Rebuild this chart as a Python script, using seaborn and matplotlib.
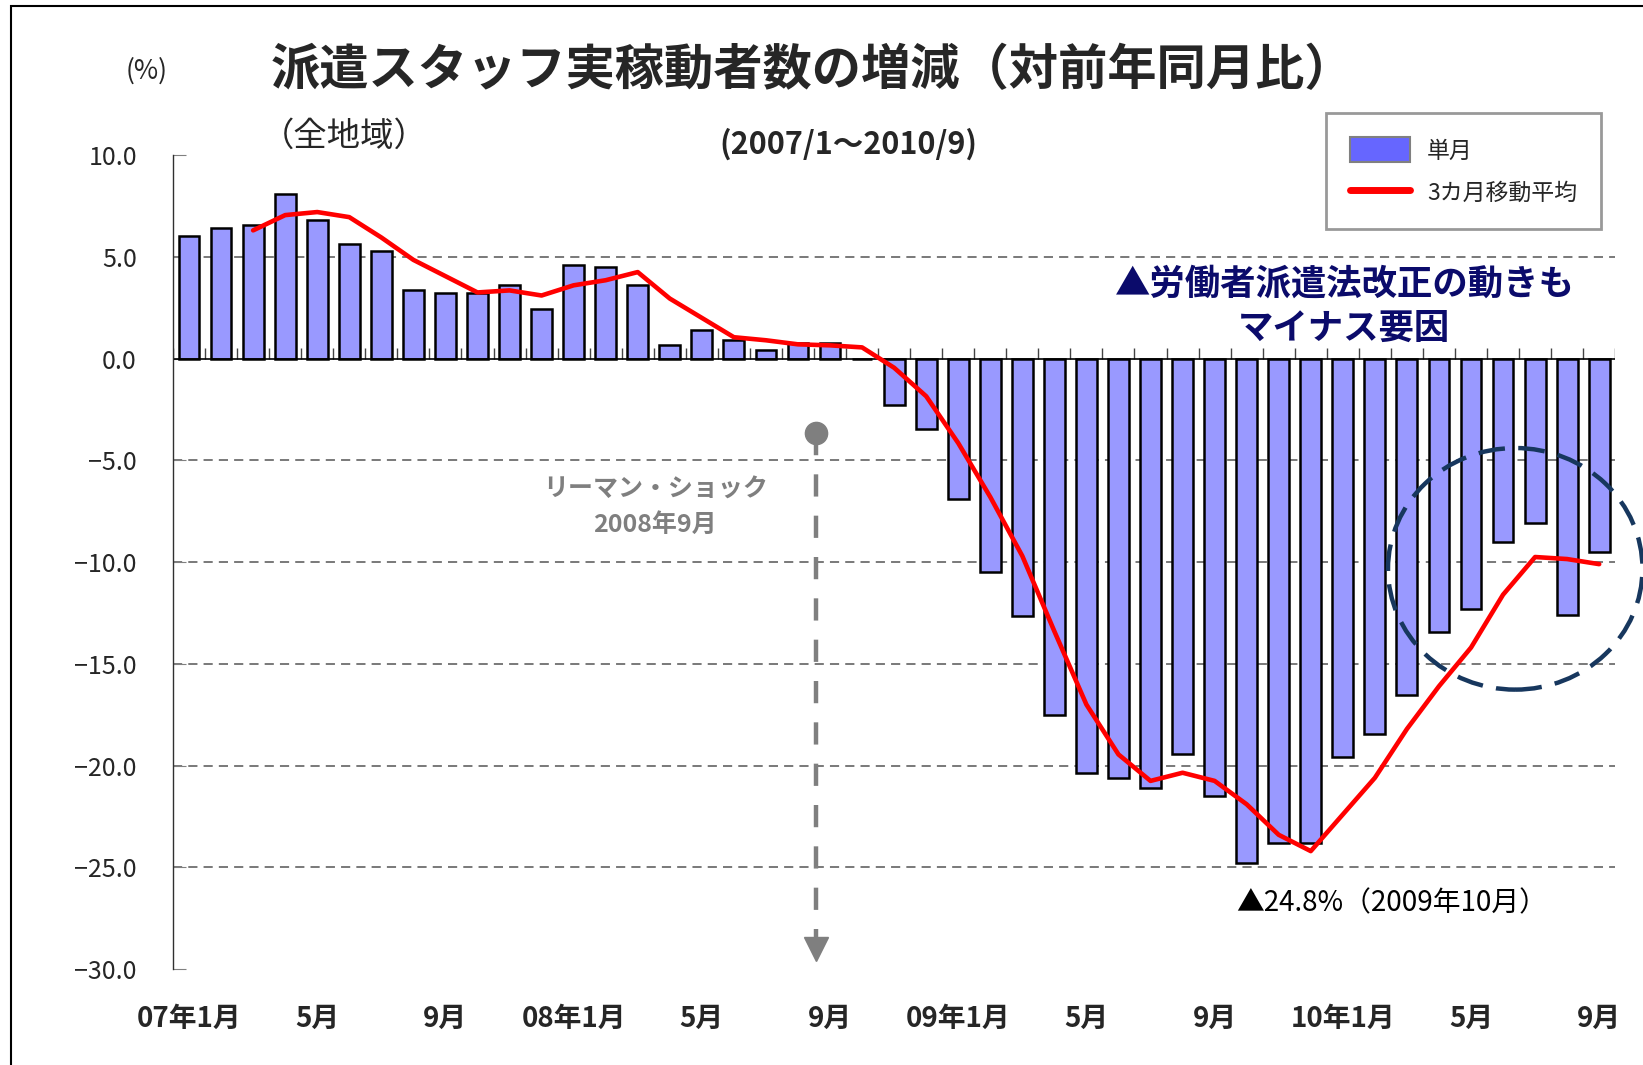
import numpy as np
import pandas as pd
import seaborn as sns
import matplotlib.pyplot as plt
from matplotlib.patches import Patch, Ellipse, Rectangle
from matplotlib.lines import Line2D

# --- data (2007/1 - 2010/9) ---
months = list(range(45))
single_month = [6.0, 6.4, 6.55, 8.1, 6.8, 5.65, 5.3, 3.35, 3.2, 3.2, 3.6, 2.45,
                4.6, 4.5, 3.6, 0.65, 1.4, 0.9, 0.4, 0.75, 0.75, 0.0, -2.3, -3.45,
                -6.9, -10.5, -12.65, -17.5, -20.35, -20.6, -21.1, -19.45, -21.5, -24.8, -23.8, -23.8,
                -19.6, -18.45, -16.55, -13.45, -12.3, -9.0, -8.1, -12.6, -9.5]
moving_avg = [np.nan, np.nan, 6.3, 7.05, 7.2, 6.95, 5.95, 4.85, 4.05, 3.25, 3.35, 3.1,
              3.6, 3.85, 4.25, 2.95, 2.0, 1.05, 0.9, 0.7, 0.65, 0.55, -0.45, -1.85,
              -4.15, -6.8, -9.7, -13.4, -17.0, -19.45, -20.75, -20.35, -20.75, -21.9, -23.4, -24.2,
              -22.4, -20.6, -18.2, -16.1, -14.2, -11.6, -9.75, -9.85, -10.1]
xtick_pos = [0, 4, 8, 12, 16, 20, 24, 28, 32, 36, 40, 44]
xtick_labels = ['07年1月', '5月', '9月', '08年1月', '5月', '9月',
                '09年1月', '5月', '9月', '10年1月', '5月', '9月']
yticks = [10, 5, 0, -5, -10, -15, -20, -25, -30]
ytick_labels = ['10.0', '5.0', '0.0', '−5.0', '−10.0', '−15.0', '−20.0', '−25.0', '−30.0']

df = pd.DataFrame({'month': months, 'single': single_month, 'ma': moving_avg})

sns.set_style('white')
plt.rcParams['font.family'] = ['Noto Sans CJK JP', 'DejaVu Sans']

fig = plt.figure(figsize=(16.43, 10.65), dpi=100)
ax = fig.add_axes([0.1053, 0.0900, 0.8778, 0.7644])

# grid lines
for g in [5, -5, -10, -15, -20, -25]:
    ax.axhline(g, color='#555555', lw=1.1, dashes=(6, 4), zorder=0)

sns.barplot(data=df, x='month', y='single', color='#9999FF', saturation=1,
            width=0.65, edgecolor='black', linewidth=1.8, ax=ax, zorder=2)
sns.lineplot(data=df.dropna(), x='month', y='ma', color='red', lw=3.3,
             legend=False, ax=ax, zorder=3)

# zero axis line with category separators
ax.axhline(0, color='black', lw=1.2, zorder=2.5)
ax.vlines(np.arange(-0.5, 45, 1), 0, 0.5, color='#444444', lw=1, zorder=1)

ax.set_xlim(-0.5, 44.5)
ax.set_ylim(-30, 10)
ax.set_xticks(xtick_pos)
ax.set_xticklabels(xtick_labels, fontsize=20, fontweight='bold')
ax.tick_params(axis='x', length=0, pad=26)
ax.set_yticks(yticks)
ax.set_yticklabels(ytick_labels, fontsize=18,
                   family=['Liberation Sans Narrow', 'Noto Sans CJK JP'])
ax.tick_params(axis='y', direction='in', length=9, color='#808080', pad=26, left=True)
ax.set_xlabel('')
ax.set_ylabel('')
for s in ['top', 'right', 'bottom']:
    ax.spines[s].set_visible(False)
ax.spines['left'].set_color('#303030')
ax.spines['left'].set_linewidth(1.0)

# Lehman shock marker
ax.plot([19.55, 19.55], [-3.65, -28.5], color='#7F7F7F', lw=3.2, dashes=(5, 4.3), zorder=4)
ax.plot(19.55, -3.65, 'o', color='#7F7F7F', ms=16, zorder=5)
ax.plot(19.55, -29.0, 'v', color='#7F7F7F', ms=17, zorder=5, clip_on=False)
ax.text(14.55, -6.42, 'リーマン・ショック', color='#7F7F7F', fontsize=18,
        fontweight='bold', ha='center', va='center')
ax.text(14.55, -8.17, '2008年9月', color='#7F7F7F', fontsize=18,
        fontweight='bold', ha='center', va='center')

# recent-months highlight
ax.add_patch(Ellipse((41.38, -10.33), 7.94, 11.87, fill=False, edgecolor='#17375E',
                     lw=3.2, linestyle=(0, (6, 3)), clip_on=False, zorder=6))
ax.text(36.05, 3.65, '▲労働者派遣法改正の動きも', color='#0B0B6B', fontsize=25.5,
        fontweight='bold', ha='center', va='center')
ax.text(36.05, 1.49, 'マイナス要因', color='#0B0B6B', fontsize=25.5,
        fontweight='bold', ha='center', va='center')
ax.text(32.68, -26.77, '▲24.8%（2009年10月）', color='black', fontsize=20,
        ha='left', va='center')

# titles
fig.text(0.0893, 0.933, '(%)', fontsize=19, ha='center', va='center')
fig.text(0.1645, 0.934, '派遣スタッフ実稼動者数の増減（対前年同月比）', fontsize=35.5,
         fontweight='bold', ha='left', va='center')
fig.text(0.159, 0.872, '（全地域）', fontsize=24, ha='left', va='center')
fig.text(0.5166, 0.864, '(2007/1～2010/9)', fontsize=22, fontweight='bold',
         ha='center', va='center')

# legend
handles = [Patch(facecolor='#6666FF', edgecolor='#808080', lw=1.5),
           Line2D([], [], color='red', lw=5)]
leg = fig.legend(handles, ['単月', '3カ月移動平均'], loc='upper right',
                 bbox_to_anchor=(0.9745, 0.8937), fontsize=16.5, frameon=True,
                 fancybox=False, handlelength=2.6, handleheight=1.3,
                 labelspacing=0.75, borderpad=1.05, handletextpad=0.75, borderaxespad=0)
leg.get_frame().set_edgecolor('#808080')
leg.get_frame().set_linewidth(2)

# outer frame
fig.add_artist(Rectangle((11 / 1643, -0.01), 1.02, 1 - 6 / 1065 + 0.01, fill=False,
                         edgecolor='black', lw=1.5, transform=fig.transFigure))

fig.savefig('out.png', dpi=100)
